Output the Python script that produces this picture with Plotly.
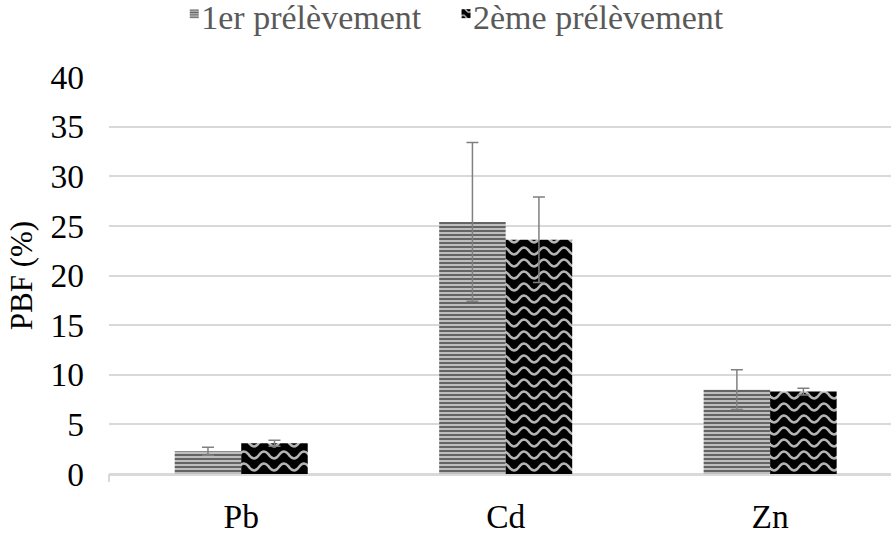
import plotly.graph_objects as go

# Metals and bioaccessibility (PBF, %) for the two sampling campaigns
elements = ["Pb", "Cd", "Zn"]
prelev1 = [2.3, 25.4, 8.5]
err1 = [0.4, 8.0, 2.0]
prelev2 = [3.1, 23.6, 8.3]
err2 = [0.3, 4.3, 0.35]

series_names = ["1er prélèvement", "2ème prélèvement"]
y_ticks = [0, 5, 10, 15, 20, 25, 30, 35, 40]

FONT = "Liberation Serif, Times New Roman, serif"
GRID = "#d9d9d9"
ERR = "#808080"
TXT = 33.5

fig = go.Figure()

fig.add_trace(go.Bar(
    name=series_names[0], x=elements, y=prelev1, legend="legend",
    marker=dict(color="white", line=dict(width=0),
                pattern=dict(shape="-", fgcolor="#000000", bgcolor="#c8c8c8",
                             size=4, solidity=0.55)),
    error_y=dict(type="data", array=err1, visible=True,
                 color=ERR, thickness=1.5, width=6),
))
fig.add_trace(go.Bar(
    name=series_names[1], x=elements, y=prelev2, legend="legend2",
    marker=dict(color="black", line=dict(width=0),
                pattern=dict(shape="x", fgcolor="#b0b0b0", bgcolor="black",
                             size=10, solidity=0.2)),
    error_y=dict(type="data", array=err2, visible=True,
                 color=ERR, thickness=1.5, width=6),
))

legend_style = dict(orientation="h", xref="container", yref="container",
                    xanchor="left", y=0.97, yanchor="middle",
                    font=dict(family=FONT, size=34, color="#595959"),
                    bgcolor="rgba(0,0,0,0)", itemclick=False)

fig.update_layout(
    width=891, height=535,
    margin=dict(l=109, r=0, t=77, b=51),
    paper_bgcolor="white", plot_bgcolor="white",
    barmode="group", bargap=0.497, bargroupgap=0,
    font=dict(family=FONT, size=TXT, color="black"),
    showlegend=True,
    legend=dict(x=0.181, **legend_style),
    legend2=dict(x=0.486, **legend_style),
)

fig.update_xaxes(
    type="category", range=[-0.5, 2.457],
    showgrid=False, showline=True, linecolor=GRID, linewidth=2,
    ticks="", ticklabelstandoff=12,
    tickfont=dict(family=FONT, size=TXT, color="black"),
)
fig.update_yaxes(
    range=[0, 40], tickvals=y_ticks,
    showgrid=True, gridcolor=GRID, gridwidth=1.5,
    zeroline=True, zerolinecolor=GRID, zerolinewidth=2,
    showline=False, ticks="", ticklabelstandoff=24,
    tickfont=dict(family=FONT, size=TXT, color="black"),
    title=dict(text="PBF (%)", standoff=8,
               font=dict(family=FONT, size=31, color="black")),
)

# small tick at the left end of the category axis
fig.add_shape(type="line", xref="paper", yref="paper",
              x0=0, x1=0, ysizemode="pixel", yanchor=0, y0=0, y1=-8,
              line=dict(color=GRID, width=2))

# Wavy-line fill for the second series (not a built-in pattern shape),
# plus compact legend swatches sitting right against their labels
wave_js = r"""
var gd = document.getElementById('{plot_id}');
function applyWave() {
  var ns = 'http://www.w3.org/2000/svg';
  var ids = {};
  var groups = [];
  var barTraces = gd.querySelectorAll('.barlayer .trace');
  if (barTraces.length > 1) groups.push(barTraces[1]);
  var leg2 = gd.querySelectorAll('.legend2 .traces');
  leg2.forEach(function (g) { groups.push(g); });
  groups.forEach(function (g) {
    g.querySelectorAll('path').forEach(function (p) {
      var f = p.style.fill || p.getAttribute('fill') || '';
      var m = f.match(/url\(["']?#([^"')]+)["']?\)/);
      if (m) ids[m[1]] = true;
    });
  });
  Object.keys(ids).forEach(function (id) {
    var pat = document.getElementById(id);
    if (!pat || pat.getAttribute('data-wave')) return;
    pat.setAttribute('data-wave', '1');
    pat.setAttribute('width', 20);
    pat.setAttribute('height', 12);
    while (pat.firstChild) pat.removeChild(pat.firstChild);
    var r = document.createElementNS(ns, 'rect');
    r.setAttribute('width', 20); r.setAttribute('height', 12);
    r.setAttribute('fill', '#000');
    pat.appendChild(r);
    var w = document.createElementNS(ns, 'path');
    w.setAttribute('d', 'M-10,6 Q-5,-1 0,6 T10,6 T20,6 T30,6');
    w.setAttribute('fill', 'none');
    w.setAttribute('stroke', '#b4b4b4');
    w.setAttribute('stroke-width', '2.4');
    pat.appendChild(w);
  });
  gd.querySelectorAll('.legendpoints path').forEach(function (p) {
    p.setAttribute('transform', 'translate(33,-2) scale(0.75)');
  });
}
applyWave();
gd.on('plotly_afterplot', applyWave);
"""

fig.write_html("out.html", post_script=wave_js)
